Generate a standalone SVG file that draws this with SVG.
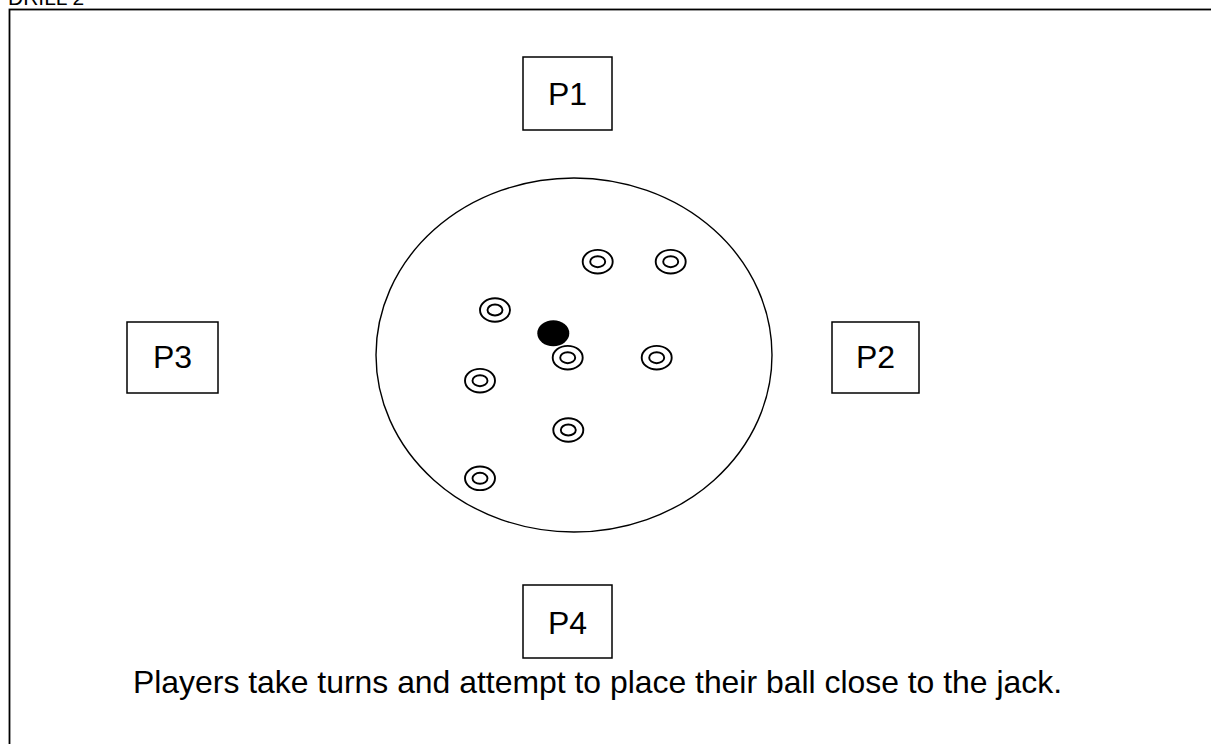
<svg xmlns="http://www.w3.org/2000/svg" width="1211" height="744" viewBox="0 0 1211 744">
<style>
.t{font-family:"Liberation Sans",Arial,sans-serif;fill:#000}
.box{fill:#fff;stroke:#000;stroke-width:1.5}
.ball{fill:none;stroke:#000;stroke-width:1.9}
</style>
<defs>
<g id="ballShape">
<ellipse class="ball" cx="0" cy="0" rx="15" ry="11.8"/>
<ellipse class="ball" cx="0" cy="0" rx="7.5" ry="5.5"/>
</g>
</defs>
<rect width="1211" height="744" fill="#fff"/>
<text class="t" x="8" y="5" font-size="21">DRILL 2</text>
<rect x="9.5" y="9.5" width="1220" height="760" fill="none" stroke="#000" stroke-width="1.8"/>
<g id="rink"><ellipse cx="574" cy="355" rx="198" ry="177" fill="none" stroke="#000" stroke-width="1.4"/></g>
<g id="P1"><rect class="box" x="523" y="57" width="89" height="73"/><text class="t" x="567.5" y="105" font-size="32" text-anchor="middle">P1</text></g>
<g id="P2"><rect class="box" x="832" y="322" width="87" height="71"/><text class="t" x="875.5" y="368" font-size="32" text-anchor="middle">P2</text></g>
<g id="P3"><rect class="box" x="127" y="322" width="91" height="71"/><text class="t" x="172.5" y="368" font-size="32" text-anchor="middle">P3</text></g>
<g id="P4"><rect class="box" x="523" y="585" width="89" height="73"/><text class="t" x="567.5" y="634" font-size="32" text-anchor="middle">P4</text></g>
<g id="balls">
<use href="#ballShape" x="597.7" y="261.7"/>
<use href="#ballShape" x="670.7" y="261.7"/>
<use href="#ballShape" x="495" y="310"/>
<use href="#ballShape" x="567.7" y="357.7"/>
<use href="#ballShape" x="656.7" y="357.7"/>
<use href="#ballShape" x="480" y="380.7"/>
<use href="#ballShape" x="568.3" y="430"/>
<use href="#ballShape" x="480" y="478.3"/>
</g>
<g id="jack"><ellipse cx="553.3" cy="333.3" rx="16" ry="13" fill="#000"/></g>
<g id="connectors"></g>
<text class="t" x="133" y="693" font-size="32" textLength="929" lengthAdjust="spacingAndGlyphs">Players take turns and attempt to place their ball close to the jack.</text>
</svg>
